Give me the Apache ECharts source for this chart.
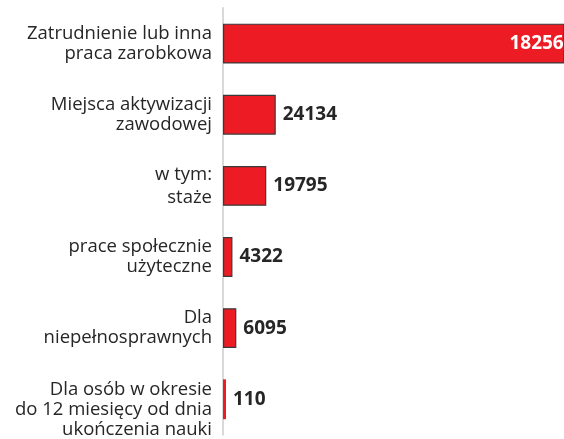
<!DOCTYPE html>
<html>
<head>
<meta charset="utf-8">
<script src="https://cdn.jsdelivr.net/npm/echarts@6/dist/echarts.min.js"></script>
<style>
  html, body { margin: 0; padding: 0; background: #fff; }
  #chart { width: 564px; height: 439px; }
</style>
</head>
<body>
<div id="chart"></div>
<script>
// kategorie (od gory)
var categories = [
  'Zatrudnienie lub inna\npraca zarobkowa',
  'Miejsca aktywizacji\nzawodowej',
  'w tym:\nstaże',
  'prace społecznie\nużyteczne',
  'Dla\nniepełnosprawnych',
  'Dla osób w okresie\ndo 12 miesięcy od dnia\nukończenia nauki'
];
// liczba osob (pierwsza wartosc ucieta na obrazku)
var values = [182562, 24134, 19795, 4322, 6095, 110];

var chart = echarts.init(document.getElementById('chart'));

var seriesData = values.map(function (v, i) {
  var item = { value: v };
  if (i === 0) {
    item.label = { position: 'insideRight', color: '#fff', distance: 5, offset: [15, 0] };
  }
  if (v < 1000) {
    item.itemStyle = { borderWidth: 0 };
  }
  return item;
});

var catData = categories.map(function (c, i) {
  if (i === 2) return { value: c, textStyle: { lineHeight: 23 } };
  return c;
});

var option = {
  backgroundColor: '#fff',
  animation: false,
  grid: {
    left: 223,
    right: 0,
    top: 8,
    bottom: 1
  },
  xAxis: {
    type: 'value',
    min: 0,
    max: 156000,
    show: false
  },
  yAxis: {
    type: 'category',
    inverse: true,
    data: catData,
    axisLine: {
      show: true,
      lineStyle: { color: '#d9d9d9', width: 2 }
    },
    axisTick: { show: false },
    axisLabel: {
      margin: 11,
      color: '#262626',
      fontFamily: 'Open Sans',
      fontSize: 18.5,
      lineHeight: 20,
      align: 'right',
      formatter: function (val, idx) {
        // ostatnia etykieta jest przesunieta w dol (ucieta u dolu)
        return idx === categories.length - 1 ? ' \n' + val : val;
      }
    }
  },
  series: [{
    type: 'bar',
    data: seriesData,
    barCategoryGap: '44%',
    barMinHeight: 3,
    itemStyle: {
      color: '#ed1c24',
      borderColor: '#3a3a3a',
      borderWidth: 1.2
    },
    label: {
      show: true,
      position: 'right',
      distance: 7,
      color: '#262626',
      fontFamily: 'Open Sans',
      fontWeight: 'bold',
      fontSize: 19
    }
  }]
};

chart.setOption(option);
</script>
</body>
</html>
